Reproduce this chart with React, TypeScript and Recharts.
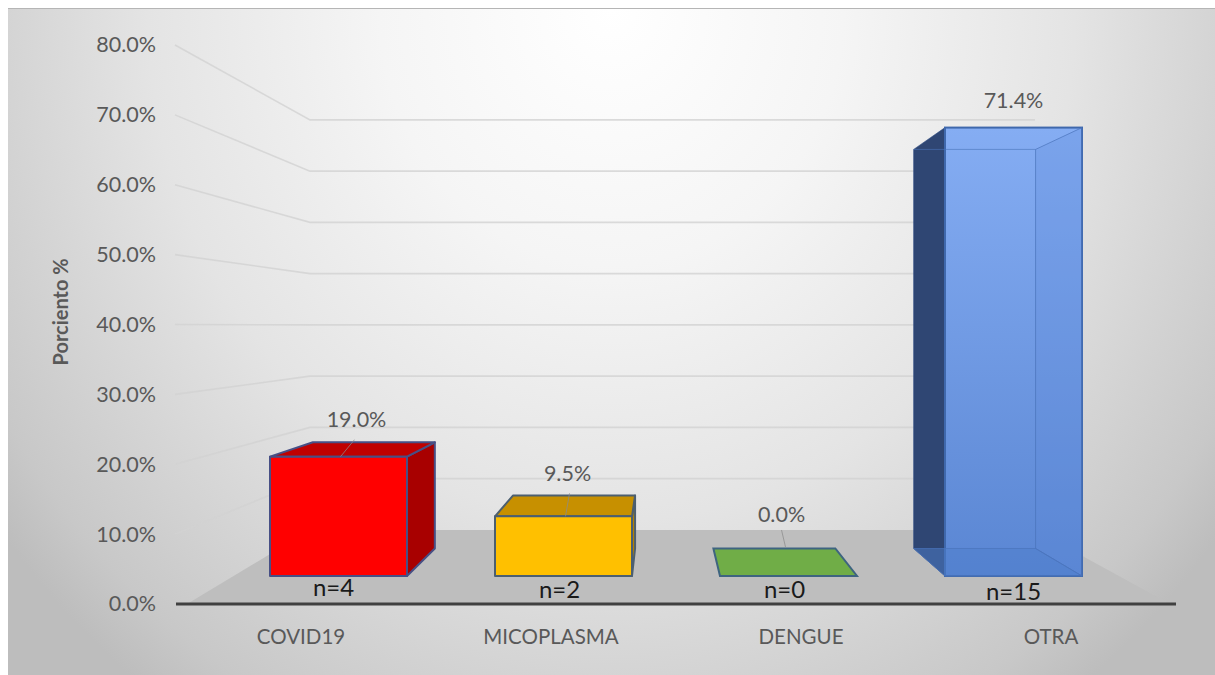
import React from "react";
import { ComposedChart, Bar, Line, XAxis, YAxis, LabelList, ReferenceArea } from "recharts";

// ---- data ----
const categories = ["COVID19", "MICOPLASMA", "DENGUE", "OTRA"];
const percents = [19.0, 9.5, 0.0, 71.4];
const counts = [4, 2, 0, 15];
const yTicks = [0, 10, 20, 30, 40, 50, 60, 70, 80];

const rows = categories.map((name, i) => ({ name, percent: percents[i], n: counts[i] }));

// ---- perspective & style ----
const VP = { x: 660, y: 326 };
const DEPTH = 0.11;
const WALL = 0.7335;
const back = (x: number, y: number) => ({ x: x + DEPTH * (VP.x - x), y: y + DEPTH * (VP.y - y) });
const pts = (list: { x: number; y: number }[]) => list.map((p) => `${p.x},${p.y}`).join(" ");

const faces: Record<string, { front: string; top: string; side: string; stroke: string }> = {
  COVID19: { front: "#ff0000", top: "#c00000", side: "#a80000", stroke: "#474f85" },
  MICOPLASMA: { front: "#ffc000", top: "#c79000", side: "#b58300", stroke: "#4c5f70" },
  DENGUE: { front: "#70ad47", top: "#70ad47", side: "#70ad47", stroke: "#3e6480" },
};
const labelOffsets: Record<string, { dx: number; dy: number; lead?: number[] }> = {
  COVID19: { dx: 18, dy: -35, lead: [2, 0, 16, -17] },
  MICOPLASMA: { dx: 4, dy: -41, lead: [2, 0, 6, -23] },
  DENGUE: { dx: -7, dy: -59, lead: [-3, -29, -7, -46] },
  OTRA: { dx: 0, dy: -25 },
};
const nOffsets: Record<string, { dx: number; dy: number }> = {
  COVID19: { dx: -5, dy: 14 },
  MICOPLASMA: { dx: -4, dy: 16 },
  DENGUE: { dx: -4, dy: 16 },
  OTRA: { dx: 0, dy: 18 },
};

const Box = (props: any) => {
  const { x, y, width, height, payload } = props;
  const x0 = x, x1 = x + width, top = y, bottom = y + height;
  const bTL = back(x0, top), bTR = back(x1, top), bBL = back(x0, bottom), bBR = back(x1, bottom);
  const name = payload.name;
  if (name === "OTRA") {
    const line = "#4a74bb";
    return (
      <g>
        <polygon points={pts([bTL, { x: x0, y: top }, { x: x0, y: bottom }, bBL])} fill="#2f4673" stroke="#2b4a80" strokeOpacity={0.6} />
        <rect x={x0} y={top} width={width} height={height} fill="url(#otraFront)" stroke="#3f68ac" strokeWidth={2} />
        <polygon points={pts([{ x: x1, y: top }, bTR, bBR, { x: x1, y: bottom }])} fill="#5b89d8" fillOpacity={0.25} stroke={line} strokeOpacity={0.7} strokeWidth={1} />
        <polygon points={pts([bBL, bBR, { x: x1, y: bottom }, { x: x0, y: bottom }])} fill="#4e7ecb" fillOpacity={0.5} stroke={line} strokeOpacity={0.7} strokeWidth={1} />
        <line x1={bTL.x} y1={bTL.y} x2={bTR.x} y2={bTR.y} stroke={line} strokeOpacity={0.6} />
      </g>
    );
  }
  const f = faces[name];
  if (height < 1) {
    return <polygon points={pts([{ x: x0, y: bottom }, { x: x1, y: bottom }, bBR, bBL])} fill={f.top} stroke={f.stroke} strokeWidth={2} />;
  }
  return (
    <g stroke={f.stroke} strokeWidth={2} strokeLinejoin="round">
      <polygon points={pts([{ x: x1, y: top }, bTR, bBR, { x: x1, y: bottom }])} fill={f.side} />
      <polygon points={pts([{ x: x0, y: top }, bTL, bTR, { x: x1, y: top }])} fill={f.top} />
      <rect x={x0} y={top} width={width} height={height} fill={f.front} />
    </g>
  );
};

const PercentLabel = (props: any) => {
  const { x, y, width, value, index } = props;
  const o = labelOffsets[categories[index]];
  const cx = x + width / 2;
  return (
    <g>
      {o.lead && (
        <line x1={cx + o.lead[0]} y1={y + o.lead[1]} x2={cx + o.lead[2]} y2={y + o.lead[3]} stroke="#8c8c8c" strokeWidth={1} opacity={0.75} />
      )}
      <text x={cx + o.dx} y={y + o.dy} textAnchor="middle" dominantBaseline="middle" fontFamily="Lato" fontSize={21.5} fill="#595959">
        {`${Number(value).toFixed(1)}%`}
      </text>
    </g>
  );
};

const CountLabel = (props: any) => {
  const { x, y, width, height, value, index } = props;
  const o = nOffsets[categories[index]];
  return (
    <text x={x + width / 2 + o.dx} y={y + height + o.dy} textAnchor="middle" dominantBaseline="middle" fontFamily="Lato" fontSize={24} fill="#1a1a1a">
      {`n=${value}`}
    </text>
  );
};

const YTick = (props: any) => {
  const { y, payload } = props;
  return (
    <text x={156} y={y + 2} textAnchor="end" dominantBaseline="middle" fontFamily="Lato" fontSize={21.5} fill="#595959">
      {`${payload.value.toFixed(1)}%`}
    </text>
  );
};

const WallLine = (props: any) => {
  const { y } = props;
  const wy = VP.y + (y - VP.y) * WALL;
  return <polyline points={`175,${y} 310,${wy} 1035,${wy}`} fill="none" stroke="#d2d2d2" strokeWidth={1.6} opacity={0.8} />;
};

const Floor = (props: any) => {
  const { x, y, width, height } = props;
  return (
    <polygon
      points={pts([
        { x: x + 11, y: y + height },
        { x: x + 134, y },
        { x: x + width - 141, y },
        { x: x + width - 6, y: y + height },
      ])}
      fill="#bebebe"
    />
  );
};

export default function App() {
  return (
    <div style={{ position: "absolute", left: 0, top: 0, width: 1215, height: 675, background: "#fff", overflow: "hidden" }}>
      <div
        style={{
          position: "absolute",
          left: 8,
          top: 8,
          width: 1207,
          height: 667,
          borderTop: "1px solid #b5b5b5",
          boxSizing: "border-box",
          background: "radial-gradient(ellipse 64% 128% at 50% 0%, #ffffff 0%, #f5f5f5 30%, #e4e4e4 60%, #c8c8c8 92%, #bdbdbd 100%)",
        }}
      />
      <div style={{ position: "absolute", left: 0, top: 0 }}>
        <ComposedChart width={1215} height={675} data={rows} margin={{ top: 45, right: 39, bottom: 0, left: 116 }}>
          <defs>
            <linearGradient id="otraFront" x1="0" y1="0" x2="0" y2="1">
              <stop offset="0%" stopColor="#85adf3" />
              <stop offset="100%" stopColor="#5a86d3" />
            </linearGradient>
          </defs>
          <XAxis
            dataKey="name"
            xAxisId="labels"
            interval={0}
            tickLine={false}
            axisLine={{ stroke: "#404040", strokeWidth: 3 }}
            tick={{ fontFamily: "Lato", fontSize: 20.5, fill: "#595959" }}
            tickMargin={19}
            height={71}
          />
          {/* front plane of the boxes: narrower band, same categories */}
          <XAxis dataKey="name" xAxisId="front" hide height={0} padding={{ left: 50, right: 50 }} />
          <YAxis
            yAxisId="left"
            domain={[0, 80]}
            ticks={yTicks}
            interval={0}
            width={60}
            axisLine={false}
            tickLine={false}
            tick={<YTick />}
            label={{ value: "Porciento %", angle: -90, position: "insideLeft", dx: -60, dy: 41, style: { fontFamily: "Lato", fontSize: 20, fontWeight: 700, fill: "#595959" } }}
          />
          {/* front plane of the boxes: value 0 sits above the axis line */}
          <YAxis yAxisId="front" hide width={0} domain={[-4.46, 84.55]} allowDataOverflow />
          {yTicks.filter((v) => v > 0).map((v) => (
            <ReferenceArea key={v} xAxisId="labels" yAxisId="left" y1={v} y2={v} shape={<WallLine />} />
          ))}
          <ReferenceArea xAxisId="labels" yAxisId="left" y1={0} y2={10.6} shape={<Floor />} />
          <Line dataKey="percent" xAxisId="labels" yAxisId="left" stroke="none" dot={false} legendType="none" isAnimationActive={false} />
          <Bar dataKey="percent" xAxisId="front" yAxisId="front" barSize={137} shape={<Box />} isAnimationActive={false}>
            <LabelList dataKey="percent" content={<PercentLabel />} />
            <LabelList dataKey="n" content={<CountLabel />} />
          </Bar>
        </ComposedChart>
      </div>
    </div>
  );
}
